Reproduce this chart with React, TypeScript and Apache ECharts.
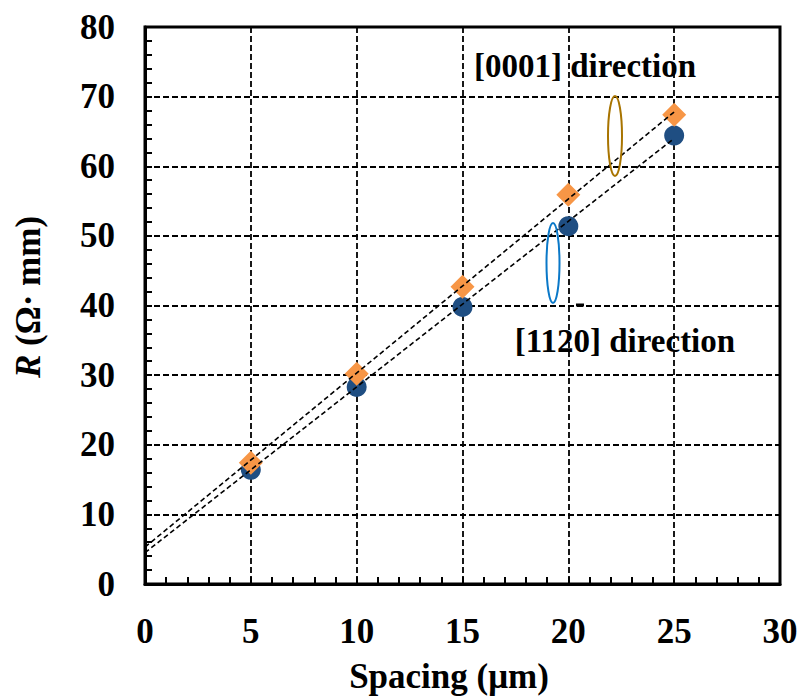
import React, { useEffect, useRef } from "react";
import * as echarts from "echarts";

const spacing = [5, 10, 15, 20, 25];
const r11_20 = [16.4, 28.3, 39.8, 51.4, 64.4];
const r0001 = [17.4, 30.2, 42.7, 55.9, 67.4];
const trend0001 = [[0, 5.3], [25, 67.8]];
const trend11_20 = [[0, 4.5], [25, 64.0]];
const xTicks = { min: 0, max: 30, interval: 5 };
const yTicks = { min: 0, max: 80, interval: 10 };

const FONT = "'Liberation Serif', 'Times New Roman', serif";
const BLUE = "#1F4E82";
const ORANGE = "#F79646";

export default function App() {
  const ref = useRef<HTMLDivElement>(null);
  useEffect(() => {
    if (!ref.current) return;
    const chart = echarts.init(ref.current, undefined, { renderer: "svg" });
    const dash = { color: "#000", width: 1.8, type: [6, 3] as any };
    const axisCommon = {
      type: "value" as const,
      axisLine: { show: true, lineStyle: { color: "#000", width: 3 } },
      axisTick: { show: true, inside: true, length: 7, lineStyle: { color: "#000", width: 2 } },
      minorTick: { show: true, splitNumber: 5, length: 7, lineStyle: { color: "#000", width: 2 } },
      splitLine: { show: true, lineStyle: dash },
      axisLabel: { color: "#000", fontSize: 35, fontWeight: "bold", fontFamily: FONT },
    };
    chart.setOption({
      animation: false,
      backgroundColor: "#fff",
      grid: { left: 145, right: 22, top: 27, bottom: 114, show: true, borderColor: "#000", borderWidth: 3 },
      xAxis: { ...axisCommon, ...xTicks, axisLabel: { ...axisCommon.axisLabel, margin: 30 } },
      yAxis: { ...axisCommon, ...yTicks, axisLabel: { ...axisCommon.axisLabel, margin: 30 } },
      series: [
        {
          type: "scatter",
          data: spacing.map((x, i) => [x, r11_20[i]]),
          symbol: "circle",
          symbolSize: 20,
          itemStyle: { color: BLUE, opacity: 1 },
          z: 3,
        },
        {
          type: "scatter",
          data: spacing.map((x, i) => [x, r0001[i]]),
          symbol: "diamond",
          symbolSize: 24,
          itemStyle: { color: ORANGE, opacity: 1 },
          z: 3,
        },
        {
          type: "line",
          data: trend0001,
          showSymbol: false,
          symbol: "none",
          lineStyle: { color: "#000", width: 1.6, type: [5, 3] },
          z: 4,
        },
        {
          type: "line",
          data: trend11_20,
          showSymbol: false,
          symbol: "none",
          lineStyle: { color: "#000", width: 1.6, type: [5, 3] },
          z: 4,
        },
      ],
      graphic: [
        {
          type: "text",
          x: 585,
          y: 66,
          style: { text: "[0001] direction", fontSize: 33, fontWeight: "bold", fontFamily: FONT, fill: "#000", align: "center", verticalAlign: "middle" },
          z: 10,
        },
        {
          type: "text",
          x: 625,
          y: 341,
          style: { text: "[1120] direction", fontSize: 33, fontWeight: "bold", fontFamily: FONT, fill: "#000", align: "center", verticalAlign: "middle" },
          z: 10,
        },
        {
          type: "ellipse",
          shape: { cx: 615, cy: 136, rx: 7, ry: 40 },
          style: { fill: "none", stroke: "#A87400", lineWidth: 2 },
          z: 10,
        },
        {
          type: "ellipse",
          shape: { cx: 553, cy: 263, rx: 6.5, ry: 40 },
          style: { fill: "none", stroke: "#0A78C8", lineWidth: 2 },
          z: 10,
        },
        {
          type: "line",
          shape: { x1: 576, y1: 305, x2: 584, y2: 305 },
          style: { stroke: "#000", lineWidth: 3 },
          z: 10,
        },
        {
          type: "text",
          x: 449,
          y: 676,
          style: { text: "Spacing (μm)", fontSize: 35, fontWeight: "bold", fontFamily: FONT, fill: "#000", align: "center", verticalAlign: "middle" },
          z: 10,
        },
        {
          type: "text",
          x: 28,
          y: 297,
          rotation: Math.PI / 2,
          style: {
            text: "{i|R} (Ω· mm)",
            fontSize: 35,
            fontWeight: "bold",
            fontFamily: FONT,
            fill: "#000",
            align: "center",
            verticalAlign: "middle",
            rich: { i: { fontStyle: "italic", fontWeight: "bold", fontSize: 35, fontFamily: FONT, fill: "#000" } },
          },
          z: 10,
        },
      ],
    });
    return () => chart.dispose();
  }, []);
  return <div ref={ref} style={{ width: 802, height: 698, position: "absolute", left: 0, top: 0 }} />;
}
